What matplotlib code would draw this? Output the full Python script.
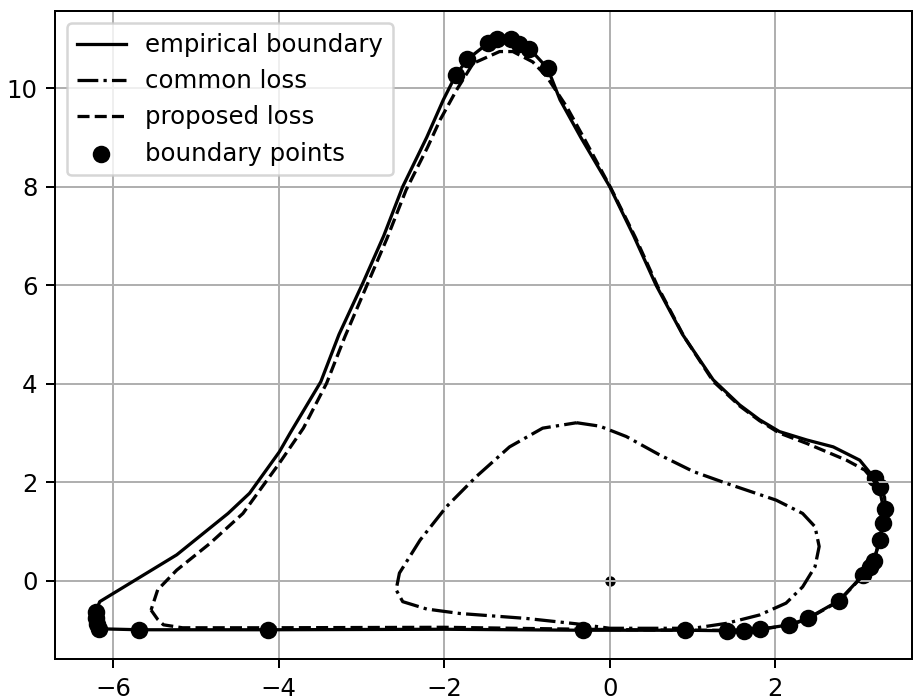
import matplotlib
matplotlib.use("Agg")
import matplotlib.pyplot as plt
import numpy as np

plt.rcParams['font.size'] = 9.75

# empirical boundary (closed path)
emp_x = [-6.21, -6.20, -6.19, -6.17, -5.69, -4.13, -2.00, -0.32, 0.91, 1.42, 1.62, 1.81,
         2.17, 2.39, 2.77, 3.06, 3.14, 3.19, 3.26, 3.30, 3.33, 3.32, 3.26, 3.20, 3.02,
         2.70, 2.38, 2.05, 1.81, 1.57, 1.25, 0.88, 0.56, 0.29, 0.00, -0.35, -0.60, -0.75, -0.97,
         -1.09, -1.19, -1.36, -1.47, -1.72, -1.86, -2.01, -2.21, -2.50, -2.73, -2.98, -3.27,
         -3.49, -3.86, -3.99, -4.35, -4.61, -5.23, -6.16, -6.21]
emp_y = [-0.63, -0.75, -0.87, -0.97, -0.99, -0.99, -0.98, -1.00, -1.00, -1.01, -1.01, -0.98,
         -0.89, -0.76, -0.40, 0.12, 0.29, 0.41, 0.83, 1.18, 1.45, 1.70, 1.91, 2.08, 2.45,
         2.72, 2.86, 3.03, 3.27, 3.57, 4.08, 5.00, 6.00, 7.00, 8.00, 9.00, 9.76, 10.40, 10.80,
         10.90, 10.99, 10.99, 10.91, 10.58, 10.26, 9.76, 9.00, 8.00, 7.00, 6.05, 5.00,
         4.04, 3.00, 2.62, 1.78, 1.37, 0.53, -0.42, -0.63]

# common loss (closed path)
com_x = [-0.40, -0.12, 0.20, 0.60, 1.01, 1.41, 2.01, 2.33, 2.48, 2.53, 2.48, 2.33, 2.13,
         1.81, 1.41, 1.01, 0.00, -0.40, -1.01, -1.81, -2.21, -2.50, -2.58, -2.54, -2.29,
         -1.97, -1.61, -1.21, -0.81, -0.40]
com_y = [3.21, 3.14, 2.93, 2.56, 2.22, 1.98, 1.64, 1.37, 1.10, 0.70, 0.29, -0.12, -0.45,
         -0.69, -0.86, -0.96, -0.96, -0.87, -0.76, -0.66, -0.57, -0.42, -0.18, 0.16, 0.83,
         1.51, 2.12, 2.72, 3.10, 3.21]

# proposed loss (closed path)
pro_x = [-5.54, -5.46, -5.39, -5.16, -4.13, -2.00, -0.32, 0.91, 1.42, 1.81, 2.17, 2.39,
         2.77, 3.06, 3.19, 3.26, 3.30, 3.31, 3.26, 3.18, 3.08, 2.86, 2.62, 2.38, 2.05,
         1.81, 1.57, 1.25, 0.90, 0.58, 0.31, 0.02, -0.30, -0.52, -0.76, -0.93, -1.17, -1.33, -1.65,
         -1.85, -2.05, -2.20, -2.46, -2.69, -2.94, -3.20, -3.42, -3.70, -3.99, -4.43, -4.83,
         -5.23, -5.46, -5.54]
pro_y = [-0.59, -0.78, -0.89, -0.95, -0.95, -0.94, -0.98, -1.00, -1.00, -0.98, -0.90, -0.77,
         -0.41, 0.11, 0.40, 0.82, 1.18, 1.45, 1.85, 2.05, 2.25, 2.45, 2.62, 2.79, 3.00,
         3.25, 3.55, 4.05, 4.95, 5.97, 6.97, 7.95, 8.95, 9.62, 10.23, 10.53, 10.74, 10.74, 10.50,
         9.96, 9.35, 8.80, 7.93, 6.95, 5.97, 4.95, 4.01, 3.10, 2.39, 1.37, 0.76,
         0.22, -0.18, -0.59]

# boundary points
pts_x = [-6.21, -6.20, -6.19, -6.17, -5.69, -4.13, -0.32, 0.91, 1.42, 1.62, 1.81, 2.17,
         2.39, 2.77, 3.06, 3.14, 3.19, 3.26, 3.30, 3.33, 3.26, 3.20,
         -1.86, -1.72, -1.47, -1.36, -1.19, -1.09, -0.97, -0.75]
pts_y = [-0.63, -0.75, -0.87, -0.97, -0.99, -1.00, -1.00, -1.00, -1.01, -1.01, -0.98, -0.89,
         -0.76, -0.40, 0.12, 0.29, 0.41, 0.83, 1.18, 1.45, 1.91, 2.08,
         10.26, 10.58, 10.91, 10.99, 10.99, 10.90, 10.80, 10.40]

center_x = [0.0]
center_y = [0.0]

fig = plt.figure(figsize=(914 / 180, 700 / 180), dpi=180)
ax = fig.add_axes([0.0602, 0.0581, 0.9375, 0.926])

lw = 1.3
ax.plot(emp_x, emp_y, 'k-', lw=lw, label='empirical boundary')
ax.plot(com_x, com_y, 'k-.', lw=lw, label='common loss')
ax.plot(pro_x, pro_y, 'k--', lw=lw, label='proposed loss')
ax.scatter(pts_x, pts_y, color='k', label='boundary points')
ax.scatter(center_x, center_y, color='k', s=10)

ax.set_xlim(-6.70, 3.65)
ax.set_ylim(-1.59, 11.56)
ax.grid(True)
ax.legend(loc='upper left')

fig.savefig('out.png', dpi=180)
